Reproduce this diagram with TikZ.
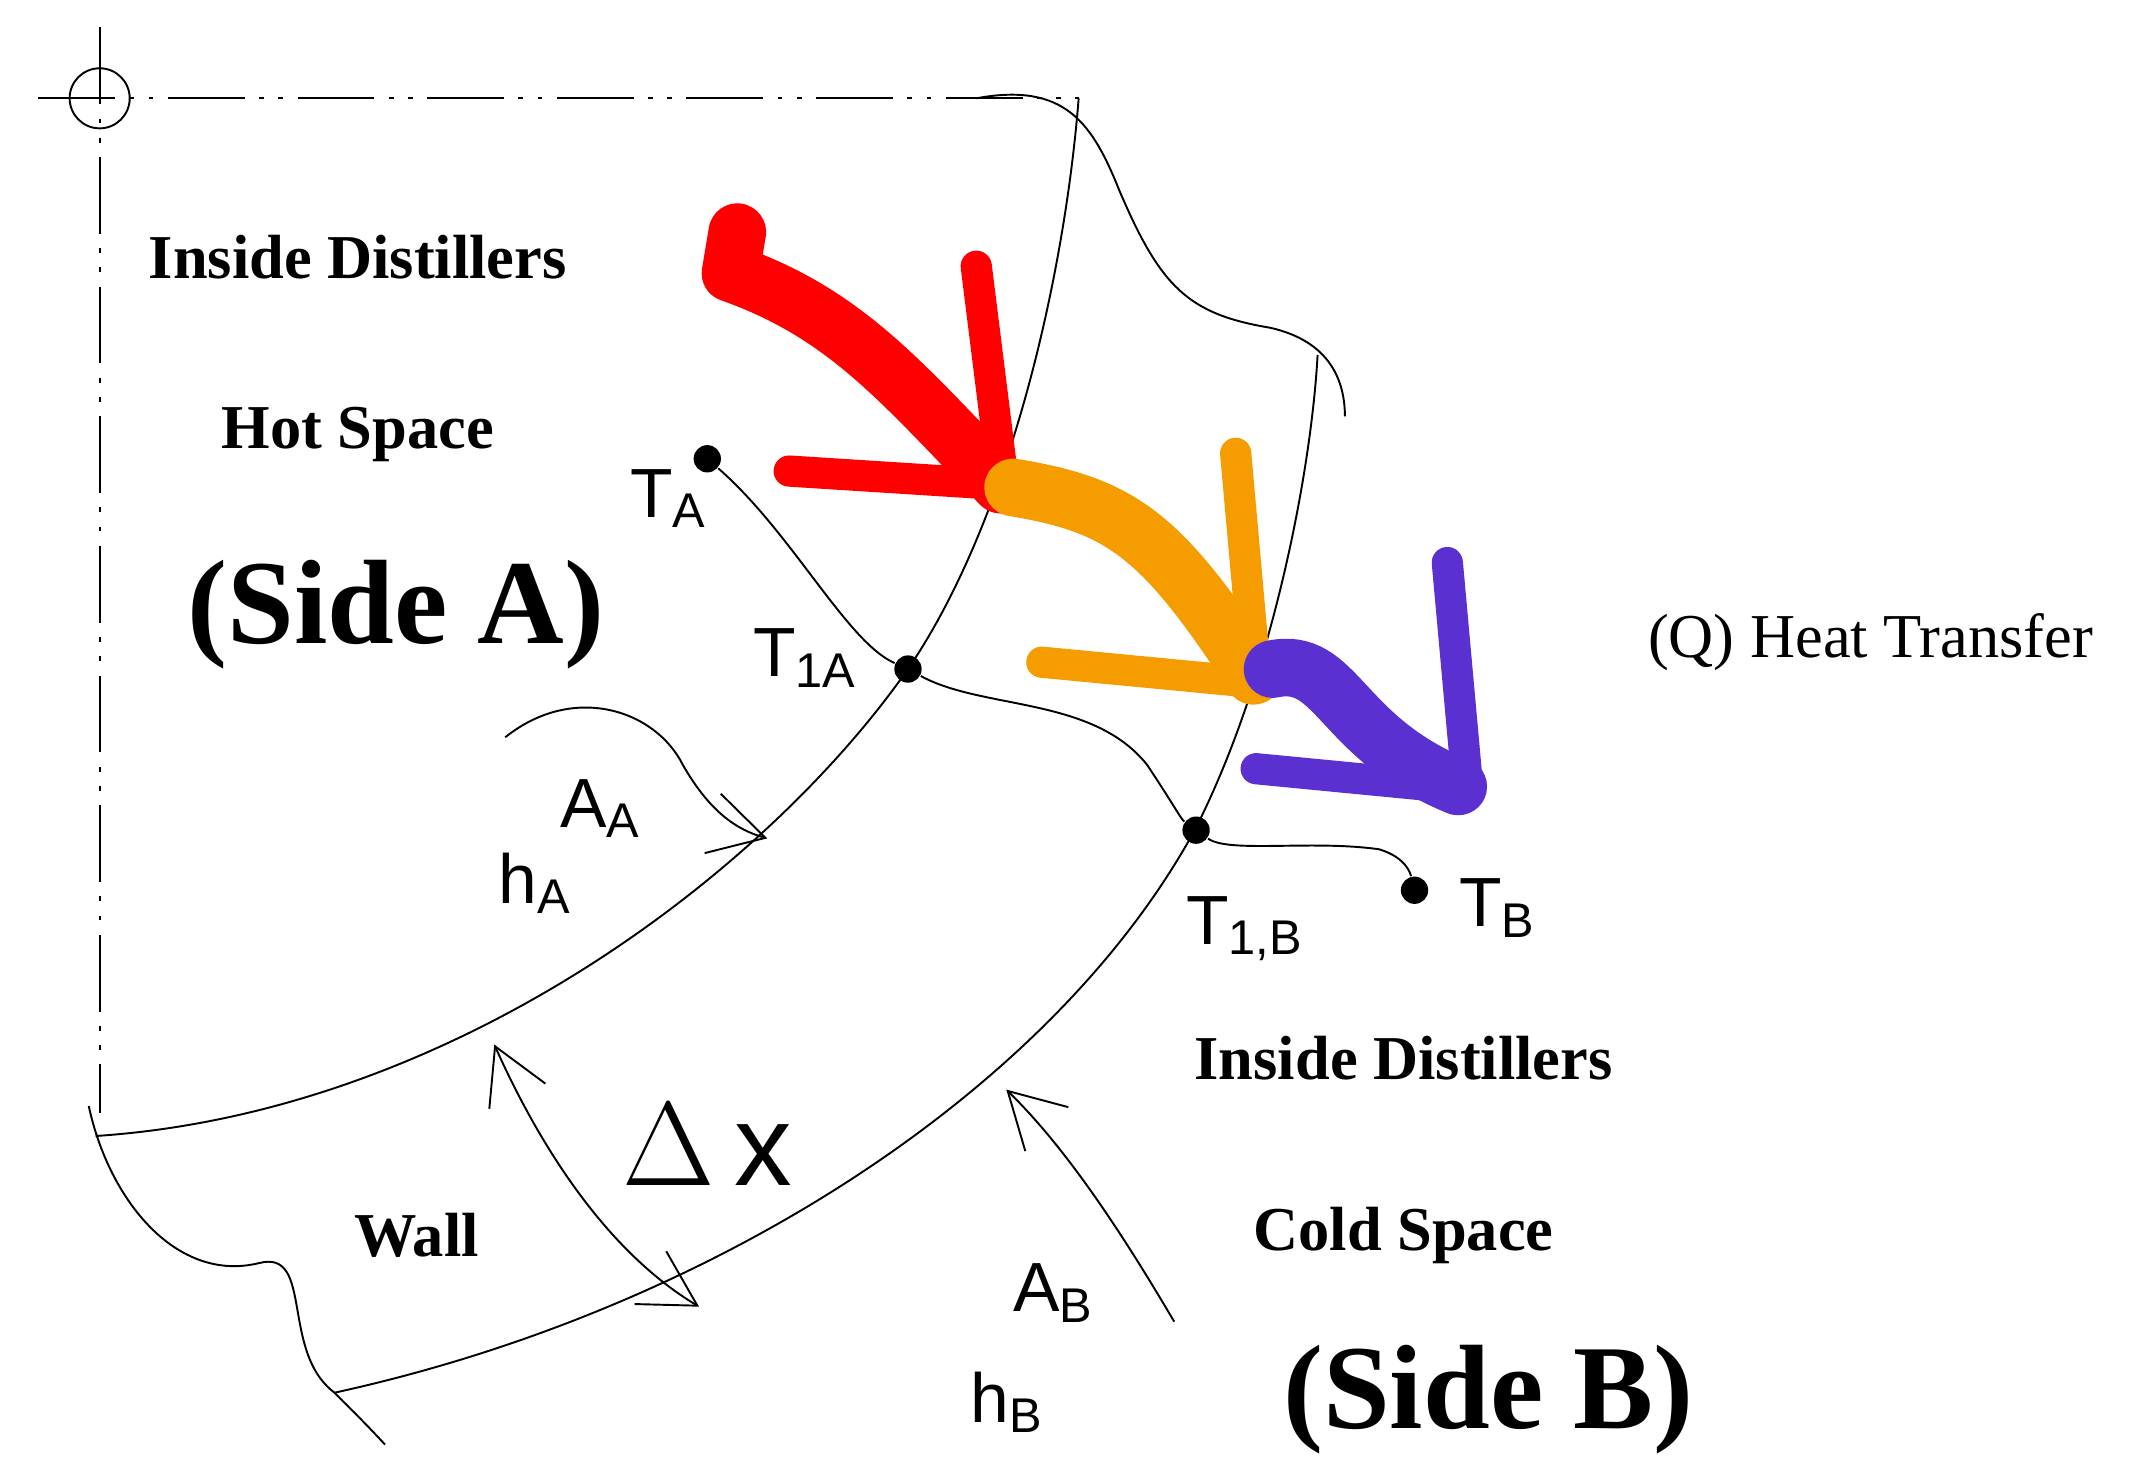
\documentclass[tikz,border=0pt]{standalone}
\usepackage{fontspec}
\setmainfont{Liberation Serif}
\newfontfamily\tsans{Liberation Sans}
\usetikzlibrary{arrows.meta}
\definecolor{heatorange}{HTML}{F59C00}
\definecolor{heatviolet}{HTML}{5A30D0}
\begin{document}
\begin{tikzpicture}[x=0.01cm,y=-0.01cm,
  lbl/.style={font=\fontsize{13}{15}\selectfont\bfseries},
  side/.style={font=\fontsize{25}{29}\selectfont\bfseries},
  tlbl/.style={font=\tsans\fontsize{14.5}{17}\selectfont},
  dot/.style={circle,fill=black,inner sep=0pt,minimum size=0.2cm},
  lead/.style={thin,-{Straight Barb[length=0.4cm,width=0.45cm]}},
  heat/.style={line width=#1,line cap=round,line join=round}]
\useasboundingbox (0,0) rectangle (1560,1079);
% axes
\draw[thin] (73,72) circle (22);
\draw[thin,dash pattern=on 16pt off 3pt on 1pt off 3pt on 1pt off 3pt] (28,72) -- (790,72);
\draw[thin,dash pattern=on 16pt off 3pt on 1pt off 3pt on 1pt off 3pt] (73,20) -- (73,815);
% wall surfaces
\draw[thin] (70,832) .. controls (330,815) and (560,640) .. (665,490) .. controls (740,380) and (780,200) .. (790,72);
\draw[thin] (245,1020) .. controls (520,960) and (770,800) .. (875,608) .. controls (930,500) and (960,350) .. (965,260);
% break lines
\draw[thin] (715,72) .. controls (780,60) and (800,90) .. (820,140) .. controls (850,210) and (870,230) .. (930,240) .. controls (975,250) and (985,280) .. (985,305);
\draw[thin] (65,810) .. controls (80,880) and (130,940) .. (190,925) .. controls (230,915) and (205,990) .. (245,1020) .. controls (260,1035) and (270,1045) .. (282,1058);
% temperature nodes
\node[dot] (tA) at (518,336) {};
\node[dot] (t1A) at (665,490) {};
\node[dot] (t1B) at (876,608) {};
\node[dot] (tB) at (1036,652) {};
\draw[thin] (tA) .. controls (580,390) and (620,470) .. (t1A);
\draw[thin] (t1A) .. controls (720,520) and (800,510) .. (840,560) .. controls (860,590) and (865,600) .. (t1B);
\draw[thin] (t1B) .. controls (900,625) and (960,615) .. (1010,622) .. controls (1030,628) and (1033,640) .. (tB);
% leaders
\coordinate (hAs) at (370,540);
\coordinate (hAe) at (562,614);
\coordinate (ABs) at (860,968);
\coordinate (ABe) at (737,798);
\coordinate (dxa) at (362,765);
\coordinate (dxb) at (512,957);
\draw[lead] (hAs) .. controls (420,500) and (480,520) .. (500,560) .. controls (520,595) and (540,608) .. (hAe);
\draw[lead] (ABs) .. controls (820,900) and (780,840) .. (ABe);
\draw[thin,{Straight Barb[length=0.4cm,width=0.45cm]}-{Straight Barb[length=0.4cm,width=0.45cm]}] (dxa) .. controls (400,850) and (450,920) .. (dxb);
% heat arrows
\draw[heat=12pt,red] (540,170) -- (535,200) .. controls (620,230) and (660,280) .. (733,355);
\draw[heat=6.5pt,red] (715,195) -- (735,355) -- (578,345);
\draw[heat=12pt,heatorange] (742,357) .. controls (820,370) and (850,390) .. (918,495);
\draw[heat=6.5pt,heatorange] (905,332) -- (920,500) -- (763,485);
\draw[heat=12pt,heatviolet] (932,490) .. controls (980,480) and (980,540) .. (1068,576);
\draw[heat=6.5pt,heatviolet] (1060,412) -- (1075,578) -- (920,563);
% labels
\node[lbl] (inA) at (262,188) {Inside Distillers};
\node[lbl] (hot) at (262,318) {Hot Space};
\node[side] (sA) at (290,450) {(Side A)};
\node[tlbl] (lTA) at (490,365) {T\textsubscript{A}};
\node[tlbl] (lT1A) at (590,482) {T\textsubscript{1A}};
\node[tlbl] (lAA) at (440,592) {A\textsubscript{A}};
\node[tlbl] (lhA) at (392,647) {h\textsubscript{A}};
\node[font=\fontsize{13}{15}\selectfont] (Q) at (1370,470) {(Q) Heat Transfer};
\node[tlbl] (lT1B) at (912,680) {T\textsubscript{1,B}};
\node[tlbl] (lTB) at (1097,665) {T\textsubscript{B}};
\node[lbl] (inB) at (1028,775) {Inside Distillers};
\node[lbl] (cold) at (1028,905) {Cold Space};
\node[side] (sB) at (1090,1025) {(Side B)};
\node[tlbl] (lAB) at (772,947) {A\textsubscript{B}};
\node[tlbl] (lhB) at (738,1027) {h\textsubscript{B}};
\node[lbl] (wall) at (305,905) {Wall};
\node[font=\tsans\fontsize{24}{28}\selectfont] (dx) at (518,838) {$\Delta$\,x};
\end{tikzpicture}
\end{document}
